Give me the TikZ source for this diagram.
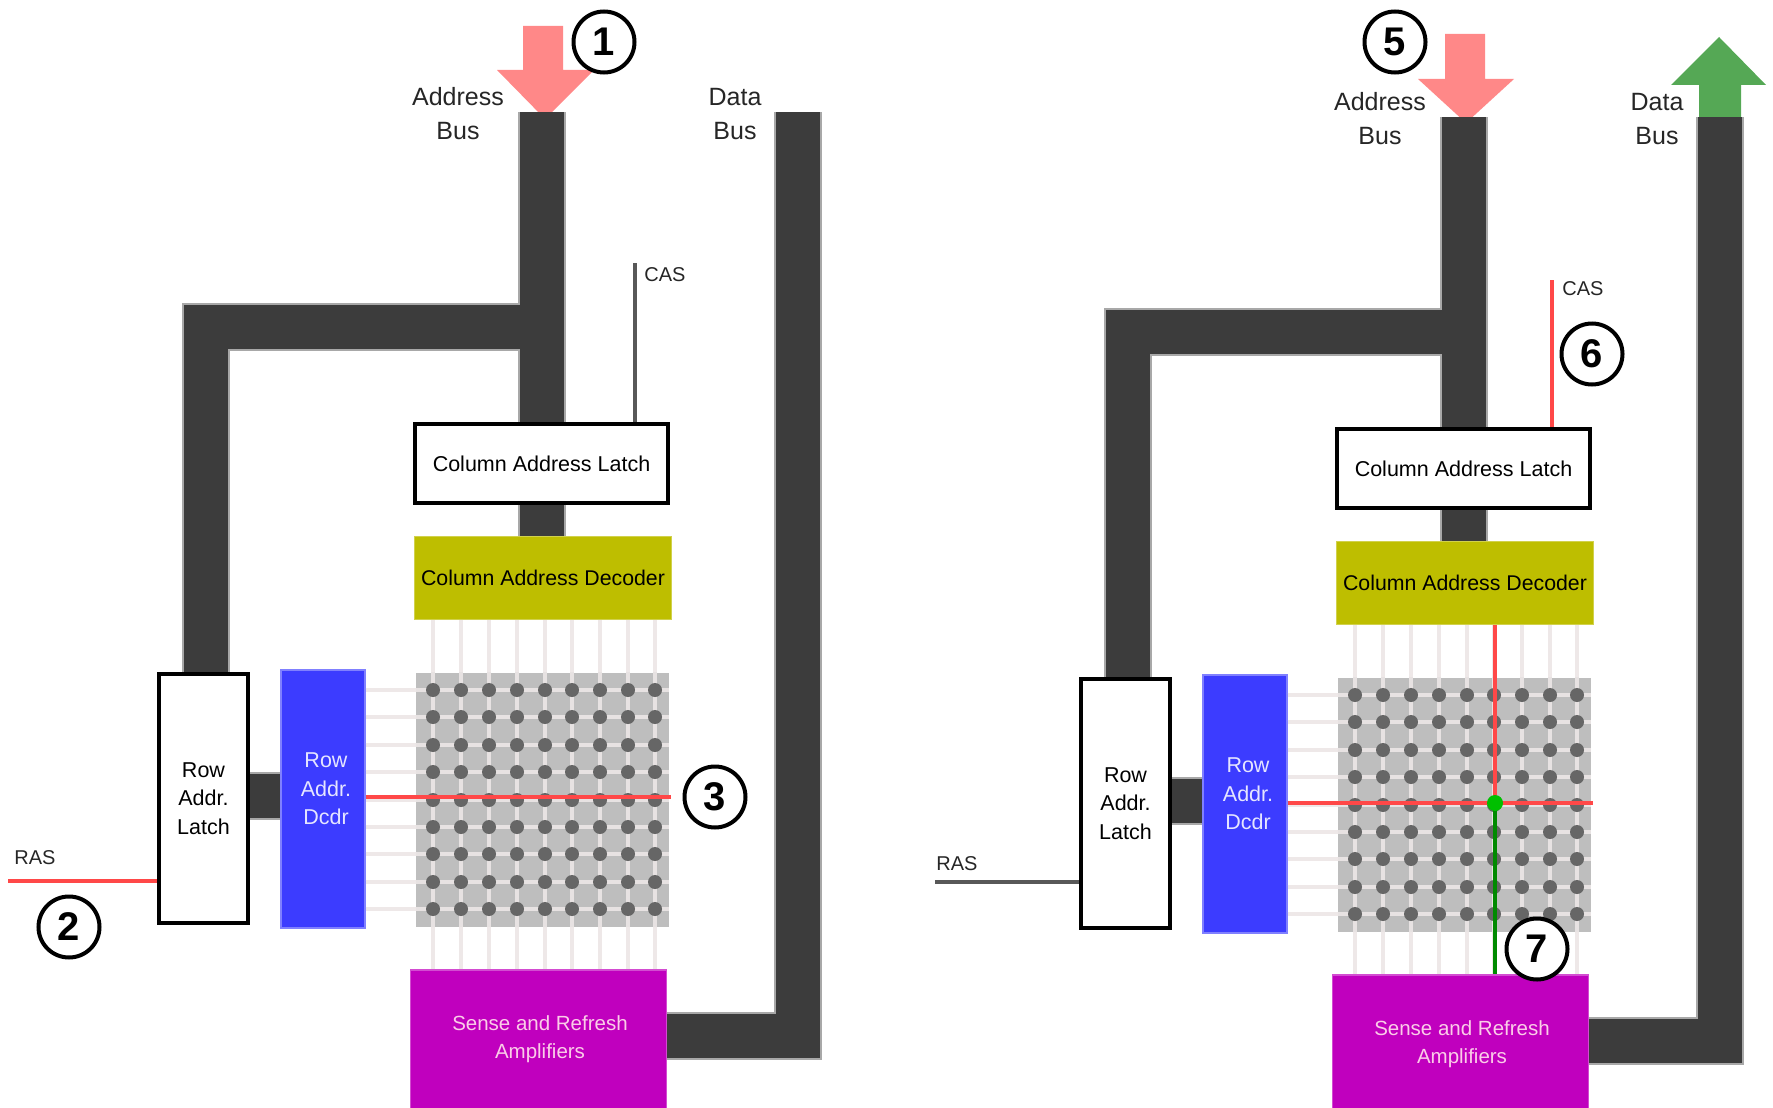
\documentclass[tikz,border=0pt]{standalone}
\usepackage{fontspec}
\setmainfont{Liberation Sans}
\definecolor{busdark}{HTML}{3C3C3C}
\definecolor{busedge}{HTML}{A8A8A8}
\definecolor{wirelt}{HTML}{EEE8E8}
\definecolor{gridgray}{HTML}{BEBEBE}
\definecolor{dotgray}{HTML}{666666}
\definecolor{decyellow}{HTML}{BEBE00}
\definecolor{dcdrblue}{HTML}{3C3CFF}
\definecolor{senseviolet}{HTML}{C000BE}
\definecolor{sigred}{HTML}{FF4848}
\definecolor{siggreen}{HTML}{008A00}
\definecolor{siggray}{HTML}{585858}
\definecolor{arrowpink}{HTML}{FF8888}
\definecolor{arrowgreen}{HTML}{55A855}
\tikzset{
  bus/.style={draw=busdark,line width=44pt,preaction={draw=busedge,line width=48pt}},
  wire/.style={draw=wirelt,line width=3.5pt},
  gridwire/.style={draw=wirelt!85!gridgray,line width=3.5pt},
  sig/.style={line width=4pt},
  latch/.style={rectangle,draw=black,line width=4.5pt,fill=white,inner sep=0pt,align=center,font=\fontsize{21.5}{28.5}\selectfont},
  decbox/.style={rectangle,draw=decyellow!70!white,line width=1.5pt,fill=decyellow,inner sep=0pt,font=\fontsize{21.3}{26}\selectfont},
  rowbox/.style={rectangle,draw=dcdrblue!65!white,line width=2pt,fill=dcdrblue,inner sep=0pt},
  sensebox/.style={rectangle,draw=senseviolet!70!white,line width=1.5pt,fill=senseviolet,inner sep=0pt},
  lighttext/.style={inner sep=0pt,align=center,text=#1},
  busl/.style={inner sep=0pt,align=center,font=\fontsize{25}{34}\selectfont,text=black!85},
  sigl/.style={inner sep=0pt,font=\fontsize{20}{24}\selectfont,text=black!85},
  num/.style={circle,draw=black,line width=4pt,fill=white,minimum size=61pt,inner sep=0pt,font=\fontsize{40}{40}\selectfont\bfseries}
}
\newcommand{\dramcore}{%
  \node[latch,minimum width=253pt,minimum height=79pt] (cal) at (541.5,463.5) {Column Address Latch};
  \node[decbox,minimum width=257pt,minimum height=83pt] (dec) at (543,578) {Column Address Decoder};
  \node[latch,minimum width=89pt,minimum height=249pt] (ral) at (203.5,798.5) {Row\\Addr.\\Latch};
  \node[rowbox,minimum width=84pt,minimum height=258pt] (dcdr) at (322.5,798.5) {};
  \node[lighttext=white!90!blue,font=\fontsize{21.5}{28.5}\selectfont] (dcdrt) at (326,789) {Row\\Addr.\\Dcdr};
  \node[sensebox,minimum width=256pt,minimum height=140pt] (sense) at (538.5,1040) {};
  \node[lighttext=white!80!magenta,font=\fontsize{20.5}{28}\selectfont] (senset) at (540,1039) {Sense and Refresh\\Amplifiers};
  \node[rectangle,fill=gridgray,inner sep=0pt,minimum width=253pt,minimum height=254pt] (grid) at (542.5,799.5) {};
  \foreach \cx in {433,461,489,517,545,572,600,628,655} {
    \draw[wire] (\cx,0 |- dec.south) -- (\cx,0 |- grid.north);
    \draw[wire] (\cx,0 |- grid.south) -- (\cx,0 |- sense.north);
    \draw[gridwire] (\cx,0 |- grid.north) -- (\cx,0 |- grid.south);
  }
  \foreach \ry in {690,717,745,772,800,827,854,882,909} {
    \draw[wire] (dcdr.east |- 0,\ry) -- (grid.west |- 0,\ry);
    \draw[gridwire] (grid.west |- 0,\ry) -- (grid.east |- 0,\ry);
    \foreach \cx in {433,461,489,517,545,572,600,628,655}
      \fill[dotgray] (\cx,\ry) circle (7pt);
  }
  \coordinate (addrtop) at (542,112);
  \coordinate (tee) at (542,327);
  \coordinate (corner) at (206,327);
  \coordinate (datatop) at (798,112);
  \coordinate (datacorner) at (798,1036);
  \draw[bus] (addrtop) -- (addrtop |- cal.north) (tee) -- (corner) -- (corner |- ral.north);
  \draw[bus] (addrtop |- cal.south) -- (addrtop |- dec.north);
  \draw[bus] (ral.east |- 0,796) -- (dcdr.west |- 0,796);
  \draw[bus] (sense.east |- datacorner) -- (datacorner) -- (datatop);
  \node[latch,minimum width=253pt,minimum height=79pt] at (cal) {Column Address Latch};
  \node[latch,minimum width=89pt,minimum height=249pt] at (ral) {Row\\Addr.\\Latch};
  \node[busl] (abl) at (458,114) {Address\\Bus};
  \node[busl] (dbl) at (735,114) {Data\\Bus};
}
\begin{document}
\begin{tikzpicture}[x=1pt,y=-1pt]
\useasboundingbox (0,0) rectangle (1773,1108);
\clip (0,0) rectangle (1773,1108);
% ---------- left panel
\begin{scope}[name prefix=L-]
  \fill[arrowpink] (523,26) -- (563,26) -- (563,70) -- (594,70) -- (545,119) -- (497,70) -- (523,70) -- cycle;
  \dramcore
  \coordinate (castop) at (635,263);
  \draw[sig,siggray] (castop) -- (castop |- cal.north);
  \node[sigl] (casl) at (665,275) {CAS};
  \coordinate (rasend) at (8,881);
  \draw[sig,sigred] (rasend) -- (ral.west |- rasend);
  \node[sigl] (rasl) at (35,858) {RAS};
  \coordinate (rowend) at (671,797);
  \draw[sig,sigred] (dcdr.east |- rowend) -- (rowend);
  \node[num] (n1) at (604,42) {1};
  \node[num] (n2) at (69,927) {2};
  \node[num] (n3) at (715,797) {3};
\end{scope}
% ---------- right panel
\begin{scope}[name prefix=R-,shift={(922,5)}]
  \fill[arrowpink] (523,29) -- (563,29) -- (563,74) -- (592,74) -- (544,118) -- (496,74) -- (523,74) -- cycle;
  \fill[arrowgreen] (777,114) -- (819,114) -- (819,80) -- (844,80) -- (797,32) -- (749,80) -- (777,80) -- cycle;
  \dramcore
  \coordinate (castop) at (630,275);
  \draw[sig,sigred] (castop) -- (castop |- cal.north);
  \node[sigl] (casl) at (661,284) {CAS};
  \coordinate (rasend) at (13,877);
  \draw[sig,siggray] (rasend) -- (ral.west |- rasend);
  \node[sigl] (rasl) at (35,859) {RAS};
  \coordinate (rowend) at (671,798);
  \coordinate (cross) at (573,798);
  \draw[sig,siggreen] (cross) -- (cross |- sense.north);
  \draw[sig,sigred] (dcdr.east |- rowend) -- (rowend);
  \draw[sig,sigred] (cross |- dec.south) -- (cross);
  \fill[green!75!black] (cross) circle (8pt);
  \node[num] (n5) at (473,37) {5};
  \node[num] (n6) at (670,349) {6};
  \node[num] (n7) at (615,944) {7};
\end{scope}
\end{tikzpicture}
\end{document}
